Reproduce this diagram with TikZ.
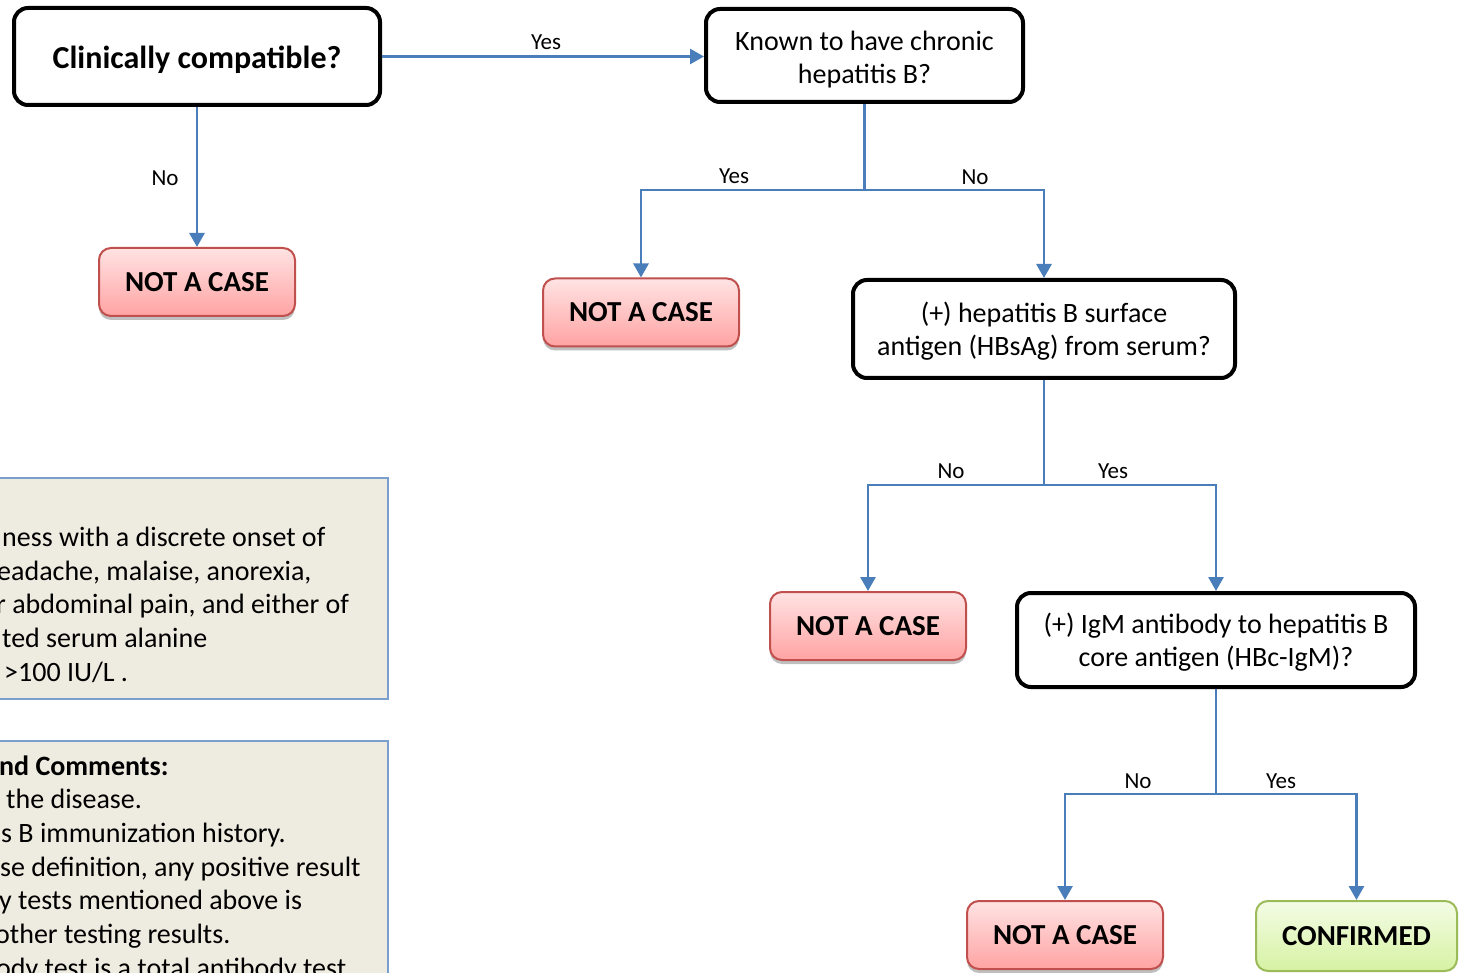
\documentclass[tikz,border=0pt]{standalone}
\usepackage{fontspec}
\setmainfont{Carlito}
\usetikzlibrary{arrows.meta,shadows}
\definecolor{connblue}{HTML}{4A7EBB}
\definecolor{nacborder}{HTML}{C0504D}
\definecolor{nactop}{HTML}{FFE3E3}
\definecolor{nacbot}{HTML}{FFA3A3}
\definecolor{cfborder}{HTML}{9BBB59}
\definecolor{cftop}{HTML}{F4FCE6}
\definecolor{cfbot}{HTML}{D6F2A2}
\definecolor{infofill}{HTML}{EEEBE0}
\definecolor{infoborder}{HTML}{7A9FCE}
\tikzset{
  qbox/.style={draw=black, line width=4pt, rounded corners=14pt, fill=white,
    inner sep=0pt},
  qtext/.style={align=center, inner sep=0pt, font=\fontsize{28}{33.5}\selectfont},
  nacbox/.style={draw=nacborder, line width=2pt, rounded corners=12pt,
    top color=nactop, bottom color=nacbot, minimum width=196pt, minimum height=68pt,
    inner sep=0pt, font=\fontsize{29}{34}\selectfont\bfseries,
    drop shadow={shadow xshift=0pt, shadow yshift=-4pt, opacity=0.25, fill=black}},
  cfbox/.style={draw=cfborder, line width=2pt, rounded corners=12pt,
    top color=cftop, bottom color=cfbot, minimum width=201pt, minimum height=70pt,
    inner sep=0pt, font=\fontsize{29}{34}\selectfont\bfseries},
  conn/.style={draw=connblue, line width=2.8pt, -{Triangle[length=14pt,width=15pt]}},
  seg/.style={draw=connblue, line width=2.8pt},
  lbl/.style={font=\fontsize{23}{27}\selectfont, inner sep=0pt},
  infobox/.style={draw=infoborder, line width=2pt, fill=infofill},
  infotxt/.style={anchor=base west, inner sep=0pt, font=\fontsize{28}{33.5}\selectfont},
}
\begin{document}
\begin{tikzpicture}[x=1pt,y=-1pt]
\useasboundingbox (0,0) rectangle (1460,973);
\clip (0,0) rectangle (1460,973);
\fill[white] (0,0) rectangle (1460,973);

% info boxes on the left
\draw[infobox] (-10,478) rectangle (388,699);
\node[infotxt] (i1) at (2,546) {ness with a discrete onset of};
\node[infotxt] (i2) at (-3,580) {eadache, malaise, anorexia,};
\node[infotxt] (i3) at (-4,613.5) {r abdominal pain, and either of};
\node[infotxt] (i4) at (2,647) {ted serum alanine};
\node[infotxt] (i5) at (4,681) {>100 IU/L .};

\draw[infobox] (-10,741) rectangle (388,1000);
\node[infotxt,font=\fontsize{28}{33.5}\selectfont\bfseries] (j1t) at (-1,775) {nd Comments:};
\node[infotxt] (j2t) at (6,808.5) {the disease.};
\node[infotxt] (j3t) at (1,842) {s B immunization history.};
\node[infotxt] (j4t) at (0,876) {se definition, any positive result};
\node[infotxt] (j5t) at (-1,909.5) {y tests mentioned above is};
\node[infotxt] (j6t) at (-5,943) {other testing results.};
\node[infotxt] (j7t) at (-4,977) {ody test is a total antibody test};

% decision boxes
\node[qbox, minimum width=366pt, minimum height=97pt] (b1) at (197,56.5) {};
\node[qtext, font=\fontsize{32}{38}\selectfont\bfseries] (b1t) at (197,59.5) {Clinically compatible?};
\node[qbox, minimum width=317pt, minimum height=93pt] (b2) at (864.5,55.5) {};
\node[qtext] (b2t) at (864.5,59.5) {Known to have chronic\\hepatitis B?};
\node[qbox, minimum width=382pt, minimum height=98pt] (b3) at (1044,329) {};
\node[qtext] (b3t) at (1044,331) {(+) hepatitis B surface\\antigen (HBsAg) from serum?};
\node[qbox, minimum width=398pt, minimum height=94pt] (b4) at (1216,640) {};
\node[qtext] (b4t) at (1216,642) {(+) IgM antibody to hepatitis B\\core antigen (HBc-IgM)?};

% outcome boxes
\node[nacbox] (n1) at (197,282) {\raisebox{-1pt}{NOT A CASE}};
\node[nacbox] (n2) at (641,312.5) {\raisebox{-1pt}{NOT A CASE}};
\node[nacbox] (n3) at (868,626) {\raisebox{-1pt}{NOT A CASE}};
\node[nacbox] (n4) at (1065,935) {\raisebox{-1pt}{NOT A CASE}};
\node[cfbox] (cf) at (1356.5,936) {\raisebox{-2pt}{CONFIRMED}};

% junctions
\coordinate (k1) at (864.5,190);
\coordinate (k2) at (1044,485);
\coordinate (k3) at (1216,794);

% connectors
\draw[conn] (b1.east) -- (b2.west |- b1.east);
\draw[conn] (b1.south) -- (n1.north);
\draw[seg] (b2.south) -- (k1);
\draw[conn] (k1) -| (n2.north);
\draw[conn] (k1) -| (b3.north);
\draw[seg] (b3.south) -- (k2);
\draw[conn] (k2) -| (n3.north);
\draw[conn] (k2) -| (b4.north);
\draw[seg] (b4.south) -- (k3);
\draw[conn] (k3) -| (n4.north);
\draw[conn] (k3) -| (cf.north);

% labels
\node[lbl] (l1) at (546,42) {Yes};
\node[lbl] (l2) at (165,178) {No};
\node[lbl] (l3) at (734,176) {Yes};
\node[lbl] (l4) at (975,177) {No};
\node[lbl] (l5) at (951,471) {No};
\node[lbl] (l6) at (1113,471) {Yes};
\node[lbl] (l7) at (1138,781) {No};
\node[lbl] (l8) at (1281,781) {Yes};
\end{tikzpicture}
\end{document}
